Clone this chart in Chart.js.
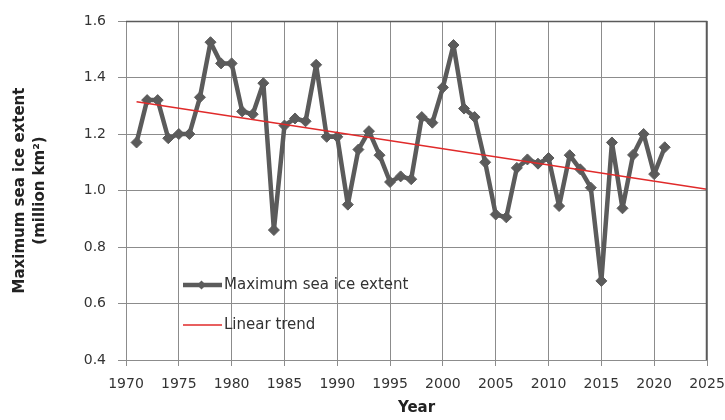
<!DOCTYPE html>
<html>
<head>
<meta charset="utf-8">
<script src="https://cdn.jsdelivr.net/npm/chart.js@4/dist/chart.umd.min.js"></script>
<style>
  html, body { margin: 0; padding: 0; background: #ffffff; }
  #wrap { width: 725px; height: 420px; }
</style>
</head>
<body>
<div id="wrap"><canvas id="c" width="725" height="420"></canvas></div>
<script>
// Yearly maximum sea ice extent (million km²)
const years = [1971, 1972, 1973, 1974, 1975, 1976, 1977, 1978, 1979, 1980,
  1981, 1982, 1983, 1984, 1985, 1986, 1987, 1988, 1989, 1990,
  1991, 1992, 1993, 1994, 1995, 1996, 1997, 1998, 1999, 2000,
  2001, 2002, 2003, 2004, 2005, 2006, 2007, 2008, 2009, 2010,
  2011, 2012, 2013, 2014, 2015, 2016, 2017, 2018, 2019, 2020, 2021];
const maxExtent = [1.17, 1.32, 1.32, 1.185, 1.20, 1.20, 1.33, 1.525, 1.45, 1.45,
  1.28, 1.27, 1.38, 0.86, 1.23, 1.255, 1.245, 1.445, 1.19, 1.19,
  0.95, 1.145, 1.21, 1.125, 1.03, 1.05, 1.04, 1.26, 1.24, 1.365,
  1.515, 1.29, 1.26, 1.10, 0.915, 0.905, 1.08, 1.11, 1.095, 1.115,
  0.945, 1.125, 1.075, 1.01, 0.68, 1.17, 0.937, 1.126, 1.20, 1.058, 1.153];

// Linear trend, drawn between its two end points
const trendYears = [1971, 2025];
const trendValues = [1.314, 1.004];

// Axis ticks
const xTicks = [1970, 1975, 1980, 1985, 1990, 1995, 2000, 2005, 2010, 2015, 2020, 2025];
const yTicks = [0.4, 0.6, 0.8, 1.0, 1.2, 1.4, 1.6];

const seriesLabel = 'Maximum sea ice extent';
const trendLabel = 'Linear trend';

const FONT = '"DejaVu Sans", Verdana, sans-serif';
const GRID = '#8c8c8c';
const SERIES = '#5b5b5b';
const TREND = '#e02a2a';
const TEXT = '#333333';

// Darker frame along the top and right of the plot area
const framePlugin = {
  id: 'frame',
  afterDatasetsDraw(chart) {
    const { ctx, chartArea: a } = chart;
    ctx.save();
    ctx.strokeStyle = '#5a5a5a';
    ctx.lineWidth = 1.5;
    ctx.beginPath();
    ctx.moveTo(a.left, a.top + 0.5);
    ctx.lineTo(a.right - 0.5, a.top + 0.5);
    ctx.lineTo(a.right - 0.5, a.bottom);
    ctx.stroke();
    ctx.restore();
  }
};

// Legend drawn inside the plot area, lower left
const innerLegend = {
  id: 'innerLegend',
  afterDraw(chart) {
    const { ctx } = chart;
    const ds = chart.data.datasets;
    const x0 = 183, x1 = 222, tx = 224;
    const rows = [285, 325];
    ctx.save();
    ds.forEach((d, i) => {
      const y = rows[i];
      ctx.strokeStyle = d.borderColor;
      ctx.lineWidth = d.borderWidth;
      ctx.lineCap = 'butt';
      ctx.beginPath();
      ctx.moveTo(x0, y);
      ctx.lineTo(x1, y);
      ctx.stroke();
      if (d.pointRadius > 0) {
        const r = d.pointRadius - 1;
        const cx = (x0 + x1) / 2 - 1;
        ctx.fillStyle = d.pointBackgroundColor;
        ctx.beginPath();
        ctx.moveTo(cx, y - r); ctx.lineTo(cx + r, y); ctx.lineTo(cx, y + r); ctx.lineTo(cx - r, y);
        ctx.closePath();
        ctx.fill();
      }
      ctx.fillStyle = TEXT;
      ctx.font = '15px ' + FONT;
      ctx.textBaseline = 'middle';
      ctx.textAlign = 'left';
      ctx.fillText(d.label, tx, y);
    });
    ctx.restore();
  }
};

new Chart(document.getElementById('c'), {
  type: 'line',
  data: {
    datasets: [
      {
        label: seriesLabel,
        data: years.map((y, i) => ({ x: y, y: maxExtent[i] })),
        borderColor: SERIES,
        borderWidth: 4.5,
        borderJoinStyle: 'round',
        borderCapStyle: 'round',
        pointStyle: 'rectRot',
        pointRadius: 5.5,
        pointBackgroundColor: SERIES,
        pointBorderColor: SERIES,
        pointBorderWidth: 1,
        tension: 0,
        order: 2
      },
      {
        label: trendLabel,
        data: trendYears.map((y, i) => ({ x: y, y: trendValues[i] })),
        borderColor: TREND,
        borderWidth: 1.5,
        pointRadius: 0,
        tension: 0,
        order: 1
      }
    ]
  },
  options: {
    responsive: false,
    animation: false,
    events: [],
    layout: { padding: { left: 0, right: 18, top: 21, bottom: 0 } },
    plugins: {
      legend: { display: false },
      tooltip: { enabled: false }
    },
    scales: {
      x: {
        type: 'linear',
        min: xTicks[0],
        max: xTicks[xTicks.length - 1],
        afterBuildTicks(scale) { scale.ticks = xTicks.map(v => ({ value: v })); },
        afterFit(scale) {
          scale.height = 60;
          scale.paddingLeft = 0;
          scale.paddingRight = 0;
        },
        grid: { color: GRID, lineWidth: 1, tickLength: 6, tickColor: GRID },
        border: { color: GRID, width: 1 },
        ticks: {
          color: TEXT,
          font: { family: FONT, size: 14 },
          padding: 10,
          maxRotation: 0,
          callback: v => String(v)
        },
        title: {
          display: true,
          text: 'Year',
          color: '#222222',
          font: { family: FONT, size: 15, weight: 'bold', lineHeight: 1.15 },
          padding: { top: 0, bottom: 3 }
        }
      },
      y: {
        min: yTicks[0],
        max: yTicks[yTicks.length - 1],
        afterBuildTicks(scale) { scale.ticks = yTicks.map(v => ({ value: v })); },
        afterFit(scale) {
          scale.width = 126;
          scale.paddingTop = 0;
          scale.paddingBottom = 0;
        },
        grid: { color: GRID, lineWidth: 1, tickLength: 8, tickColor: GRID },
        border: { color: GRID, width: 1 },
        ticks: {
          color: TEXT,
          font: { family: FONT, size: 14 },
          padding: 12,
          callback: v => Number(v).toFixed(1)
        },
        title: {
          display: true,
          text: ['Maximum sea ice extent', '(million km²)'],
          color: '#222222',
          font: { family: FONT, size: 15, weight: 'bold', lineHeight: 1.35 },
          padding: { top: 10, bottom: 0 }
        }
      }
    }
  },
  plugins: [framePlugin, innerLegend]
});
</script>
</body>
</html>
